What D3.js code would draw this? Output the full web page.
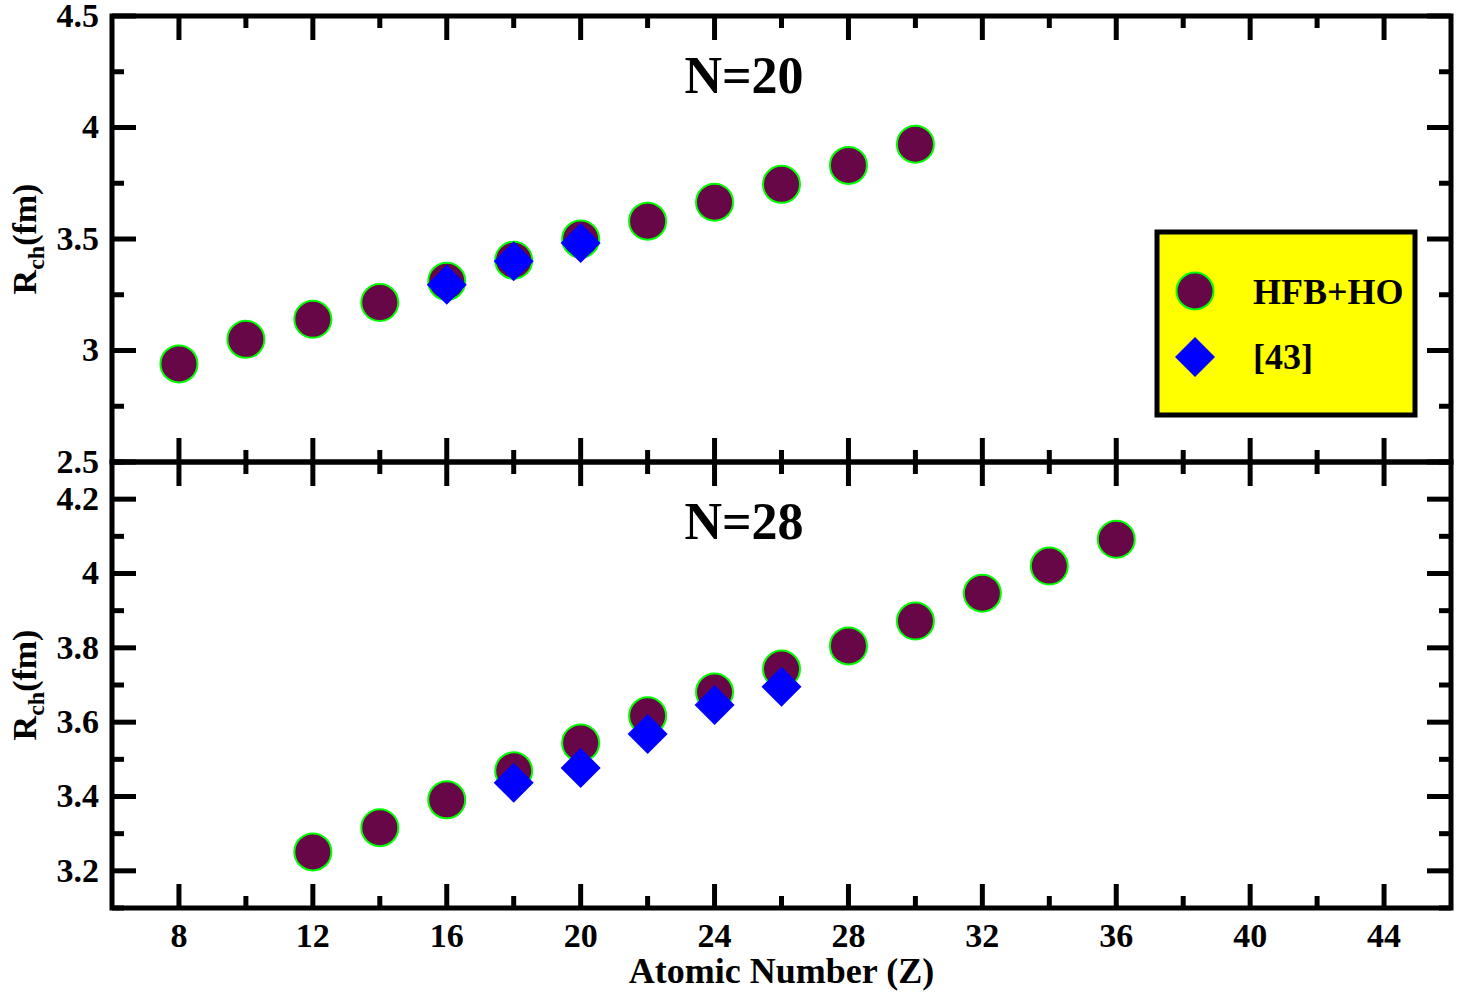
<!DOCTYPE html>
<html>
<head>
<meta charset="utf-8">
<script src="https://cdn.jsdelivr.net/npm/d3@7"></script>
<style>
  html, body { margin: 0; padding: 0; background: #fff; }
  svg { display: block; font-family: "Liberation Serif", "Times New Roman", serif; font-weight: bold; }
  .tick-label { font-size: 34px; fill: #000; }
</style>
</head>
<body>
<div id="chart"></div>
<script>
// N=20 panel
const zN20 = [8, 10, 12, 14, 16, 18, 20, 22, 24, 26, 28, 30];
const hfbN20 = [2.94, 3.05, 3.14, 3.215, 3.31, 3.405, 3.50, 3.58, 3.665, 3.745, 3.83, 3.925];
const zRefN20 = [16, 18, 20];
const refN20 = [3.295, 3.40, 3.482];

// N=28 panel
const zN28 = [12, 14, 16, 18, 20, 22, 24, 26, 28, 30, 32, 34, 36];
const hfbN28 = [3.251, 3.316, 3.391, 3.469, 3.544, 3.617, 3.681, 3.743, 3.805, 3.872, 3.947, 4.02, 4.092];
const zRefN28 = [18, 20, 22, 24, 26];
const refN28 = [3.437, 3.477, 3.568, 3.646, 3.695];

const xMajorTicks = [8, 12, 16, 20, 24, 28, 32, 36, 40, 44];
const xMinorTicks = [10, 14, 18, 22, 26, 30, 34, 38, 42];
const yTopMajor = [2.5, 3, 3.5, 4, 4.5];
const yTopMinor = [2.75, 3.25, 3.75, 4.25];
const yBotMajor = [3.2, 3.4, 3.6, 3.8, 4.0, 4.2];
const yBotMinor = [3.1, 3.3, 3.5, 3.7, 3.9, 4.1, 4.3];

const seriesNames = ["HFB+HO", "[43]"];

const W = 1459, H = 994;
const plotL = 112, plotR = 1451, plotT = 16, plotM = 462, plotB = 908;
const lw = 5, majorLen = 24, minorLen = 12;
const circleFill = "#670748", circleStroke = "#00ff00", diamondFill = "#0000ff";

const svg = d3.select("#chart").append("svg").attr("width", W).attr("height", H);

const xScale = d3.scaleLinear().domain([6, 46]).range([plotL, plotR]);

const panels = [
  { title: "N=20", y0: plotT, y1: plotM, domain: [2.5, 4.5], major: yTopMajor, minor: yTopMinor,
    z: zN20, hfb: hfbN20, zRef: zRefN20, ref: refN20, fmt: d => d3.format("")(d), titleY: 93 },
  { title: "N=28", y0: plotM, y1: plotB, domain: [3.1, 4.3], major: yBotMajor, minor: yBotMinor,
    z: zN28, hfb: hfbN28, zRef: zRefN28, ref: refN28, fmt: d => (d === 4 ? "4" : d3.format(".1f")(d)), titleY: 539 }
];

const diamond = d3.symbol().type(d3.symbolSquare).size(800);

panels.forEach(p => {
  const yScale = d3.scaleLinear().domain(p.domain).range([p.y1, p.y0]);
  const g = svg.append("g");
  const ticks = g.append("g").attr("stroke", "#000").attr("stroke-width", lw);

  // x ticks on bottom and top edges (inward)
  const xt = xMajorTicks.map(v => ({ v, len: majorLen })).concat(xMinorTicks.map(v => ({ v, len: minorLen })));
  xt.forEach(t => {
    const x = xScale(t.v);
    ticks.append("line").attr("x1", x).attr("x2", x).attr("y1", p.y1).attr("y2", p.y1 - t.len);
    ticks.append("line").attr("x1", x).attr("x2", x).attr("y1", p.y0).attr("y2", p.y0 + t.len);
  });

  // y ticks on left and right edges (inward)
  const yt = p.major.map(v => ({ v, len: majorLen })).concat(p.minor.map(v => ({ v, len: minorLen })));
  yt.forEach(t => {
    const y = yScale(t.v);
    ticks.append("line").attr("x1", plotL).attr("x2", plotL + t.len).attr("y1", y).attr("y2", y);
    ticks.append("line").attr("x1", plotR).attr("x2", plotR - t.len).attr("y1", y).attr("y2", y);
  });

  // y tick labels
  g.selectAll(".ylab").data(p.major).enter().append("text")
    .attr("class", "tick-label")
    .attr("x", plotL - 13)
    .attr("y", d => yScale(d))
    .attr("dy", "0.32em")
    .attr("text-anchor", "end")
    .text(p.fmt);

  // frame
  g.append("rect")
    .attr("x", plotL).attr("y", p.y0)
    .attr("width", plotR - plotL).attr("height", p.y1 - p.y0)
    .attr("fill", "none").attr("stroke", "#000").attr("stroke-width", lw);

  // panel title
  g.append("text")
    .attr("x", 744).attr("y", p.titleY)
    .attr("text-anchor", "middle")
    .style("font-size", "52px")
    .text(p.title);

  // y axis label
  const yl = g.append("text")
    .attr("transform", `translate(36,${(p.y0 + p.y1) / 2}) rotate(-90)`)
    .attr("text-anchor", "middle")
    .style("font-size", "34px");
  yl.append("tspan").text("R");
  yl.append("tspan").attr("dy", 8).style("font-size", "24px").text("ch");
  yl.append("tspan").attr("dy", -8).text("(fm)");

  // HFB+HO circles
  g.selectAll(".dot").data(p.z.map((z, k) => ({ z, v: p.hfb[k] }))).enter().append("circle")
    .attr("cx", d => xScale(d.z))
    .attr("cy", d => yScale(d.v))
    .attr("r", 18.5)
    .attr("fill", circleFill)
    .attr("stroke", circleStroke)
    .attr("stroke-width", 2);

  // reference diamonds
  g.selectAll(".dia").data(p.zRef.map((z, k) => ({ z, v: p.ref[k] }))).enter().append("path")
    .attr("d", diamond)
    .attr("transform", d => `translate(${xScale(d.z)},${yScale(d.v)}) rotate(45)`)
    .attr("fill", diamondFill);
});

// x tick labels
svg.selectAll(".xlab").data(xMajorTicks).enter().append("text")
  .attr("class", "tick-label")
  .attr("x", d => xScale(d))
  .attr("y", 947)
  .attr("text-anchor", "middle")
  .text(d => d);

// x axis label
svg.append("text")
  .attr("x", (plotL + plotR) / 2)
  .attr("y", 983)
  .attr("text-anchor", "middle")
  .style("font-size", "36px")
  .text("Atomic Number (Z)");

// legend
const lg = svg.append("g");
lg.append("rect")
  .attr("x", 1157).attr("y", 232).attr("width", 258).attr("height", 183)
  .attr("fill", "#ffff00").attr("stroke", "#000").attr("stroke-width", lw);
lg.append("circle")
  .attr("cx", 1195).attr("cy", 291).attr("r", 18.5)
  .attr("fill", circleFill).attr("stroke", circleStroke).attr("stroke-width", 2);
lg.append("path")
  .attr("d", diamond)
  .attr("transform", "translate(1195,357) rotate(45)")
  .attr("fill", diamondFill);
lg.selectAll(".legtext").data(seriesNames).enter().append("text")
  .attr("x", 1253)
  .attr("y", (d, i) => 304 + i * 65)
  .style("font-size", "36px")
  .text(d => d);
</script>
</body>
</html>
